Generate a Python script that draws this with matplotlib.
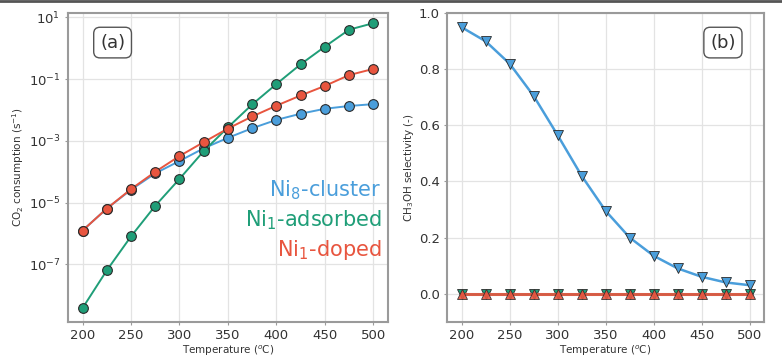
import numpy as np
import matplotlib.pyplot as plt
from matplotlib.ticker import NullLocator
from matplotlib.lines import Line2D

temps = [200, 225, 250, 275, 300, 325, 350, 375, 400, 425, 450, 475, 500]

# log10 of CO2 consumption (s^-1)
log_cluster = [-5.90, -5.19, -4.58, -4.05, -3.65, -3.24, -2.90, -2.59, -2.32, -2.12, -1.96, -1.87, -1.81]
log_adsorbed = [-8.41, -7.19, -6.09, -5.10, -4.23, -3.33, -2.56, -1.82, -1.16, -0.52, 0.05, 0.60, 0.81]
log_doped = [-5.90, -5.19, -4.56, -4.00, -3.49, -3.04, -2.60, -2.21, -1.86, -1.53, -1.22, -0.87, -0.67]

# CH3OH selectivity, panel (b)
sel_cluster = [0.95, 0.90, 0.82, 0.705, 0.565, 0.42, 0.295, 0.20, 0.135, 0.09, 0.06, 0.04, 0.03]
sel_adsorbed = [0.0] * 13
sel_doped = [0.0] * 13

names = ['Ni$_8$-cluster', 'Ni$_1$-adsorbed', 'Ni$_1$-doped']
c_blue = '#4a9edb'
c_green = '#1f9e78'
c_red = '#e8553f'
spine_c = '#9a9a9a'
grid_c = '#e3e3e3'
txt_c = '#333333'

plt.rcParams['font.family'] = 'DejaVu Sans'

fig = plt.figure(figsize=(7.82, 3.59), dpi=100)
ax1 = fig.add_axes([0.087, 0.104, 0.409, 0.859])
ax2 = fig.add_axes([0.572, 0.104, 0.405, 0.859])

# dark frame line along the top edge of the original image
fig.add_artist(Line2D([0, 1], [0.996, 0.996], transform=fig.transFigure,
                      color='#555555', lw=2))


def style(ax):
    for s in ax.spines.values():
        s.set_color(spine_c)
        s.set_linewidth(1.5)
    ax.grid(True, color=grid_c, linewidth=0.9)
    ax.set_axisbelow(True)
    ax.tick_params(colors=spine_c, labelcolor=txt_c, labelsize=9.5, length=2, width=0.8)
    ax.set_xlabel('Temperature ($^o$C)', fontsize=7.5, color=txt_c, labelpad=1)


# panel (a)
for vals, c in [(log_cluster, c_blue), (log_adsorbed, c_green), (log_doped, c_red)]:
    ax1.plot(temps, 10 ** np.array(vals), '-o', color=c, lw=1.4, ms=7,
             mec='#2a2a2a', mew=0.8)
ax1.set_yscale('log')
ax1.set_ylim(10 ** -8.85, 10 ** 1.13)
ax1.set_yticks([1e1, 1e-1, 1e-3, 1e-5, 1e-7])
ax1.yaxis.set_minor_locator(NullLocator())
ax1.set_xticks([200, 250, 300, 350, 400, 450, 500])
style(ax1)
ax1.set_ylabel('CO$_2$ consumption (s$^{-1}$)', fontsize=7.5, color=txt_c, labelpad=2)
ax1.text(0.10, 0.905, '(a)', transform=ax1.transAxes, fontsize=13, color=txt_c,
         ha='left', va='center',
         bbox=dict(boxstyle='round,pad=0.35', fc='white', ec='#555555', lw=1))
for i, (n, c) in enumerate(zip(names, [c_blue, c_green, c_red])):
    ax1.text(0.98, 0.425 - i * 0.097, n, transform=ax1.transAxes, fontsize=15,
             color=c, ha='right', va='center')

# panel (b)
ax2.plot(temps, sel_cluster, '-v', color=c_blue, lw=1.8, ms=7, mec='#2a2a2a', mew=0.6,
         markerfacecolor=c_blue)
ax2.plot(temps, sel_adsorbed, '-v', color=c_green, lw=1.8, ms=7, mec='#2a2a2a', mew=0.6)
ax2.plot(temps, sel_doped, '-^', color=c_red, lw=2.2, ms=7, mec='#2a2a2a', mew=0.6,
         alpha=0.9)
ax2.set_ylim(-0.1, 1.0)
ax2.set_yticks([0.0, 0.2, 0.4, 0.6, 0.8, 1.0])
ax2.set_xticks([200, 250, 300, 350, 400, 450, 500])
style(ax2)
ax2.set_ylabel('CH$_3$OH selectivity (-)', fontsize=7.5, color=txt_c, labelpad=2)
ax2.text(0.83, 0.905, '(b)', transform=ax2.transAxes, fontsize=13, color=txt_c,
         ha='left', va='center',
         bbox=dict(boxstyle='round,pad=0.35', fc='white', ec='#555555', lw=1))

fig.savefig('out.png', dpi=100)
